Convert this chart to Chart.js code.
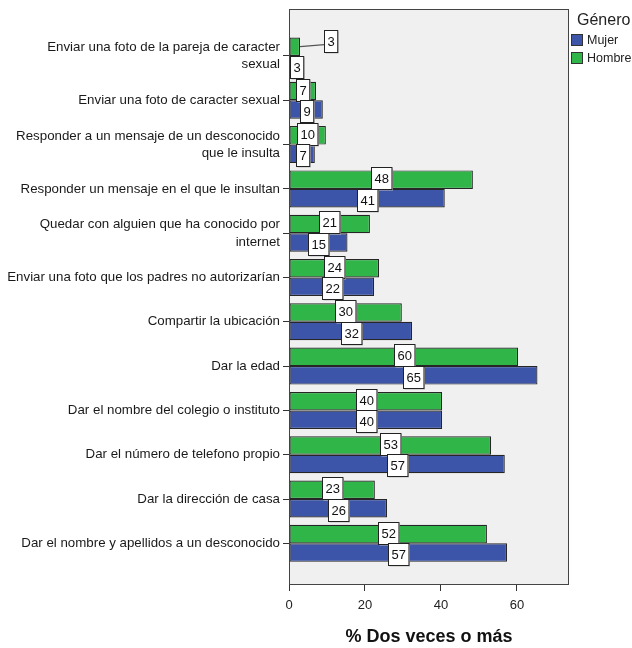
<!DOCTYPE html>
<html>
<head>
<meta charset="utf-8">
<script src="https://cdn.jsdelivr.net/npm/chart.js@4.4.1/dist/chart.umd.min.js"></script>
<style>
  html, body { margin: 0; padding: 0; background: #fff; }
  #wrap { width: 632px; height: 648px; }
</style>
</head>
<body>
<div id="wrap"><canvas id="chart" width="632" height="648"></canvas></div>
<script>
// categories, top to bottom
var categories = [
    ['Enviar una foto de la pareja de caracter', 'sexual'],
    'Enviar una foto de caracter sexual',
    ['Responder a un mensaje de un desconocido', 'que le insulta'],
    'Responder un mensaje en el que le insultan',
    ['Quedar con alguien que ha conocido por', 'internet'],
    'Enviar una foto que los padres no autorizarían',
    'Compartir la ubicación',
    'Dar la edad',
    'Dar el nombre del colegio o instituto',
    'Dar el número de telefono propio',
    'Dar la dirección de casa',
    'Dar el nombre y apellidos a un desconocido'
];
// % Dos veces o más
var mujer  = [3.0, 8.9, 6.8, 41.0, 15.4, 22.4, 32.4, 65.4, 40.3, 56.8, 25.8, 57.4];
var hombre = [2.9, 7.1, 9.7, 48.4, 21.3, 23.7, 29.7, 60.3, 40.3, 53.2, 22.6, 52.1];
var xTicks = [0, 20, 40, 60];

var FONT = '"Liberation Sans", Arial, sans-serif';

function toPoints(values) {
    return values.map(function(v, i) { return {x: v, y: i}; });
}

// grey plot background + frame
var frame = {
    id: 'frame',
    beforeDatasetsDraw: function(chart) {
        var a = chart.chartArea, ctx = chart.ctx;
        ctx.save();
        ctx.fillStyle = '#f0f0f0';
        ctx.fillRect(a.left, a.top, a.right - a.left, a.bottom - a.top);
        ctx.restore();
    },
    afterDatasetsDraw: function(chart) {
        var a = chart.chartArea, ctx = chart.ctx;
        ctx.save();
        ctx.strokeStyle = '#444';
        ctx.lineWidth = 1;
        ctx.strokeRect(a.left + 0.5, a.top + 0.5, a.right - a.left - 1, a.bottom - a.top - 1);
        ctx.restore();
    }
};

// white value boxes on the bars
var valueBoxes = {
    id: 'valueBoxes',
    afterDraw: function(chart) {
        var ctx = chart.ctx;
        ctx.save();
        ctx.font = '13px ' + FONT;
        ctx.textAlign = 'center';
        ctx.textBaseline = 'middle';
        var metas = [chart.getDatasetMeta(0), chart.getDatasetMeta(1)];
        metas[0].data.forEach(function(el0, i) {
            [0, 1].forEach(function(d) {
                var el = metas[d].data[i];
                var val = chart.data.datasets[d].data[i].x;
                var txt = String(Math.round(val));
                var w = ctx.measureText(txt).width + 6, h = 22;
                var barW = el.x - el.base;
                var cx = Math.max((el.x + el.base) / 2, el.base + w / 2);
                var cy = el.y + (d === 0 ? -1.5 : 1.5);
                var other = metas[1 - d].data[i];
                var crowded = barW < w && (other.x - other.base) < w;
                if (d === 0 && crowded) {
                    cx = el.x + 31;
                    cy = el.y - 6;
                    ctx.strokeStyle = '#555';
                    ctx.lineWidth = 1.2;
                    ctx.beginPath();
                    ctx.moveTo(el.x, el.y);
                    ctx.lineTo(cx - w / 2, cy + 4);
                    ctx.stroke();
                }
                var x0 = Math.round(cx - w / 2) + 0.5, y0 = Math.round(cy - h / 2) + 0.5;
                ctx.fillStyle = '#bbb';
                ctx.fillRect(x0 + 1, y0 + 1, w, h);
                ctx.fillStyle = '#fff';
                ctx.fillRect(x0, y0, w, h);
                ctx.strokeStyle = '#222';
                ctx.lineWidth = 1;
                ctx.strokeRect(x0, y0, w, h);
                ctx.fillStyle = '#111';
                ctx.fillText(txt, x0 + w / 2, y0 + h / 2 + 1);
            });
        });
        ctx.restore();
    }
};

// legend on the right, Mujer first
var legendBox = {
    id: 'legendBox',
    afterDraw: function(chart) {
        var ctx = chart.ctx, x = chart.chartArea.right + 3;
        ctx.save();
        ctx.textBaseline = 'middle';
        ctx.textAlign = 'left';
        ctx.fillStyle = '#222';
        ctx.font = '16px ' + FONT;
        ctx.fillText('Género', x + 5, 21);
        ctx.font = '12.5px ' + FONT;
        [1, 0].forEach(function(d, k) {
            var ds = chart.data.datasets[d];
            var y = 34 + k * 18;
            ctx.fillStyle = ds.backgroundColor;
            ctx.fillRect(x - 0.5, y + 0.5, 11, 11);
            ctx.strokeStyle = '#333';
            ctx.lineWidth = 1;
            ctx.strokeRect(x - 0.5, y + 0.5, 11, 11);
            ctx.fillStyle = '#222';
            ctx.fillText(ds.label, x + 15, y + 6.5);
        });
        ctx.restore();
    }
};

var ctx = document.getElementById('chart');
new Chart(ctx, {
    type: 'bar',
    data: {
        datasets: [{
            label: 'Hombre',
            data: toPoints(hombre),
            backgroundColor: '#30b548',
            borderColor: '#262626',
            borderWidth: 1.2,
            borderSkipped: false
        }, {
            label: 'Mujer',
            data: toPoints(mujer),
            backgroundColor: '#3d55a8',
            borderColor: '#262626',
            borderWidth: 1.2,
            borderSkipped: false
        }]
    },
    options: {
        indexAxis: 'y',
        responsive: false,
        animation: false,
        layout: { padding: { top: 9, right: 63, left: 0, bottom: 0 } },
        datasets: { bar: { categoryPercentage: 0.835, barPercentage: 1 } },
        plugins: {
            legend: { display: false },
            tooltip: { enabled: false }
        },
        scales: {
            y: {
                type: 'linear',
                reverse: true,
                offset: false,
                min: -1.06,
                max: 11.94,
                afterFit: function(s) {
                    s.width = 289;
                    s.paddingTop = 0;
                    s.paddingBottom = 0;
                },
                afterBuildTicks: function(s) {
                    s.ticks = categories.map(function(c, i) { return {value: i}; });
                },
                ticks: {
                    autoSkip: false,
                    padding: 3,
                    color: '#1a1a1a',
                    font: { family: FONT, size: 13.3, lineHeight: 1.3 },
                    callback: function(v) { return categories[v]; }
                },
                grid: { offset: false, drawOnChartArea: false, tickLength: 6, color: '#333' },
                border: { display: false }
            },
            x: {
                type: 'linear',
                min: 0,
                max: 73.7,
                afterFit: function(s) { s.height = 63; },
                afterBuildTicks: function(s) {
                    s.ticks = xTicks.map(function(v) { return {value: v}; });
                },
                ticks: {
                    padding: 7,
                    color: '#222',
                    font: { family: FONT, size: 13 }
                },
                grid: { drawOnChartArea: false, tickLength: 6, color: '#333' },
                border: { display: false },
                title: {
                    display: true,
                    text: '% Dos veces o más',
                    color: '#111',
                    font: { family: FONT, size: 18, weight: 'bold' },
                    padding: { top: 4, bottom: 0 }
                }
            }
        }
    },
    plugins: [frame, valueBoxes, legendBox]
});
</script>
</body>
</html>
